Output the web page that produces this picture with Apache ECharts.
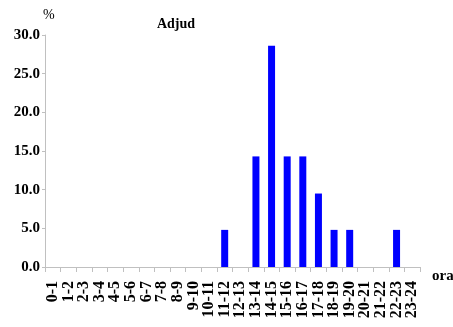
<!DOCTYPE html>
<html>
<head>
<meta charset="utf-8">
<script src="https://cdn.jsdelivr.net/npm/echarts@6/dist/echarts.min.js"></script>
<style>html,body{margin:0;padding:0;background:#fff;}#c{width:453px;height:327px;}</style>
</head>
<body>
<div id="c"></div>
<script>
var categories = ["0-1","1-2","2-3","3-4","4-5","5-6","6-7","7-8","8-9","9-10","10-11","11-12","12-13","13-14","14-15","15-16","16-17","17-18","18-19","19-20","20-21","21-22","22-23","23-24"];
var values = [0,0,0,0,0,0,0,0,0,0,0,4.8,0,14.3,28.6,14.3,14.3,9.5,4.8,4.8,0,0,4.8,0];
var yTicks = [0,5,10,15,20,25,30];

var chart = echarts.init(document.getElementById('c'), null, {renderer:'canvas'});
var serif = '"Liberation Serif", "Times New Roman", serif';
chart.setOption({
  animation: false,
  backgroundColor: '#fff',
  title: {
    text: 'Adjud', left: 171, top: 12, textAlign: 'center',
    textStyle: {fontFamily: serif, fontWeight: 'bold', fontSize: 14, color: '#000'}
  },
  graphic: [
    {type:'text', left: 43, top: 8, style:{text:'%', font:'14px ' + serif, fill:'#000'}},
    {type:'text', left: 432, top: 269, style:{text:'ora', font:'bold 15px ' + serif, fill:'#000'}}
  ],
  grid: {left: 45, right: 33, top: 35, bottom: 60, containLabel: false},
  xAxis: {
    type: 'category', data: categories, boundaryGap: true,
    axisLine: {lineStyle: {color: '#c0c0c0'}},
    axisTick: {show: true, length: 5, lineStyle: {color: '#c0c0c0'}},
    axisLabel: {rotate: 90, interval: 0, margin: 14, fontFamily: serif, fontWeight: 'bold', fontSize: 16, color: '#000'}
  },
  yAxis: {
    type: 'value', min: yTicks[0], max: yTicks[yTicks.length-1], interval: 5,
    axisLine: {show: true, lineStyle: {color: '#c0c0c0'}},
    axisTick: {show: true, length: 3, lineStyle: {color: '#c0c0c0'}},
    splitLine: {show: false},
    axisLabel: {margin: 5, fontFamily: serif, fontWeight: 'bold', fontSize: 15, color: '#000',
      formatter: function(v){ return v.toFixed(1); }}
  },
  series: [{
    type: 'bar', data: values, barWidth: 7,
    itemStyle: {color: '#0000FF'}
  }]
});
</script>
</body>
</html>
